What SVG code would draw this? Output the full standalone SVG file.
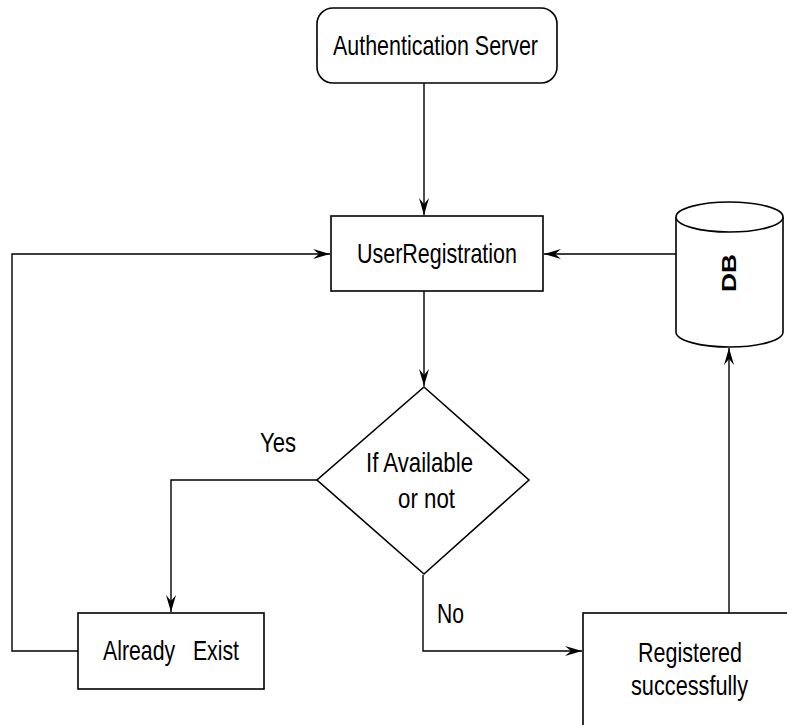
<svg xmlns="http://www.w3.org/2000/svg" width="787" height="725" viewBox="0 0 787 725">
  <style>
    .shape { fill: #ffffff; stroke: #000000; stroke-width: 1.6; }
    .edge { fill: none; stroke: #000000; stroke-width: 1.4; }
    .label { font-family: "Liberation Sans", Arial, sans-serif; font-size: 28px; fill: #000000; }
    .db { font-family: "Liberation Sans", Arial, sans-serif; font-size: 21px; font-weight: bold; fill: #000000; }
  </style>
  <defs>
    <marker id="arrow" viewBox="-18 -6 19 12" refX="0" refY="0" markerWidth="19" markerHeight="12" markerUnits="userSpaceOnUse" orient="auto">
      <path d="M0,0 L-17,-5 L-11,0 L-17,5 Z" fill="#000000"/>
    </marker>
  </defs>
  <rect width="787" height="725" fill="#ffffff"/>

  <g id="connectors">
    <path class="edge" d="M424,83 V215" marker-end="url(#arrow)"/>
    <path class="edge" d="M424,291 V386" marker-end="url(#arrow)"/>
    <path class="edge" d="M676,254 H544" marker-end="url(#arrow)"/>
    <path class="edge" d="M78,651 H12 V254 H330" marker-end="url(#arrow)"/>
    <path class="edge" d="M317,480 H171 V612" marker-end="url(#arrow)"/>
    <path class="edge" d="M423,575 V651 H582" marker-end="url(#arrow)"/>
    <path class="edge" d="M729,613 V348" marker-end="url(#arrow)"/>
  </g>

  <g id="auth-server">
    <rect class="shape" x="317" y="8" width="240" height="75" rx="16" ry="16"/>
    <text class="label" x="333" y="55" textLength="205" lengthAdjust="spacingAndGlyphs">Authentication Server</text>
  </g>

  <g id="user-registration">
    <rect class="shape" x="331" y="216" width="212" height="75"/>
    <text class="label" x="357" y="263" textLength="160" lengthAdjust="spacingAndGlyphs">UserRegistration</text>
  </g>

  <g id="db">
    <path class="shape" d="M676,217 V332 A53.5,15 0 0 0 783,332 V217"/>
    <ellipse class="shape" cx="729.5" cy="217" rx="53.5" ry="15"/>
    <text class="db" transform="translate(736,292) rotate(-90)" x="0" y="0" textLength="38" lengthAdjust="spacingAndGlyphs">DB</text>
  </g>

  <g id="decision">
    <polygon class="shape" points="424,387 529,480 424,574 317,480"/>
    <text class="label" x="366" y="472" textLength="107" lengthAdjust="spacingAndGlyphs">If Available</text>
    <text class="label" x="398" y="508" textLength="57" lengthAdjust="spacingAndGlyphs">or not</text>
  </g>

  <g id="yes-label">
    <text class="label" x="260" y="452" textLength="36" lengthAdjust="spacingAndGlyphs">Yes</text>
  </g>

  <g id="no-label">
    <text class="label" x="437" y="623" textLength="27" lengthAdjust="spacingAndGlyphs">No</text>
  </g>

  <g id="already-exist">
    <rect class="shape" x="78" y="613" width="186" height="76"/>
    <text class="label" x="103" y="660" textLength="136" lengthAdjust="spacingAndGlyphs" xml:space="preserve">Already   Exist</text>
  </g>

  <g id="registered">
    <rect class="shape" x="583" y="613" width="220" height="130"/>
    <text class="label" x="638" y="662" textLength="104" lengthAdjust="spacingAndGlyphs">Registered</text>
    <text class="label" x="631" y="695" textLength="117" lengthAdjust="spacingAndGlyphs">successfully</text>
  </g>
</svg>
